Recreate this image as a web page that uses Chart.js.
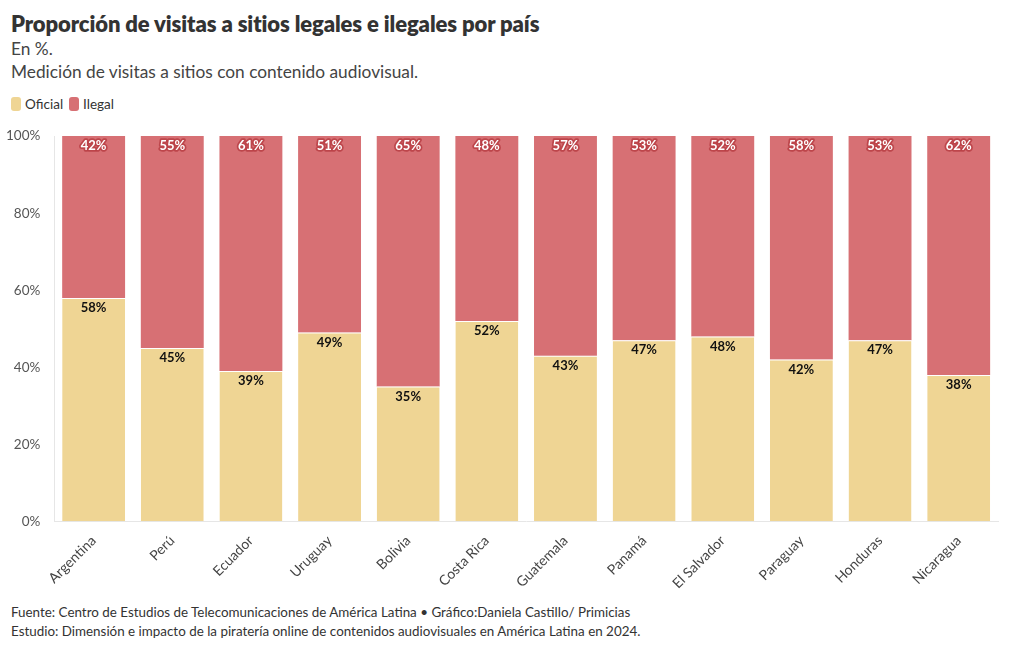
<!DOCTYPE html>
<html>
<head>
<meta charset="utf-8">
<script src="https://cdn.jsdelivr.net/npm/chart.js"></script>
<style>
  body { margin: 0; background: #fff; font-family: Lato, "Noto Sans", sans-serif; color: #333; }
  #wrap { position: relative; width: 1020px; height: 650px; }
  h1 { position: absolute; left: 11px; top: 10px; margin: 0; font-size: 22px; font-weight: 800; color: #333; letter-spacing: -0.1px; }
  .sub { position: absolute; left: 11px; top: 37px; font-size: 17.3px; line-height: 23px; color: #444; }
  .legend { position: absolute; left: 11px; top: 96px; font-size: 13.5px; color: #333; display: flex; align-items: center; }
  .legend span.sw { display: inline-block; width: 10px; height: 14px; border-radius: 3px; margin-right: 4px; }
  .legend span.it { margin-right: 6px; display: flex; align-items: center; }
  .foot { position: absolute; left: 11px; top: 603px; font-size: 13.4px; line-height: 19px; color: #333; }
  #box { position: absolute; left: 0; top: 122px; width: 1020px; height: 473px; }
</style>
</head>
<body>
<div id="wrap">
  <h1>Proporción de visitas a sitios legales e ilegales por país</h1>
  <div class="sub">En %.<br>Medición de visitas a sitios con contenido audiovisual.</div>
  <div class="legend">
    <span class="it"><span class="sw" style="background:#efd594"></span>Oficial</span>
    <span class="it"><span class="sw" style="background:#d77074"></span>Ilegal</span>
  </div>
  <div id="box"><canvas id="chart"></canvas></div>
  <div class="foot">Fuente: Centro de Estudios de Telecomunicaciones de América Latina • Gráfico:Daniela Castillo/ Primicias<br>Estudio: Dimensión e impacto de la piratería online de contenidos audiovisuales en América Latina en 2024.</div>
</div>
<script>
const paises = ['Argentina', 'Perú', 'Ecuador', 'Uruguay', 'Bolivia', 'Costa Rica', 'Guatemala', 'Panamá', 'El Salvador', 'Paraguay', 'Honduras', 'Nicaragua'];
const oficial = [58, 45, 39, 49, 35, 52, 43, 47, 48, 42, 47, 38];
const ilegal = [42, 55, 61, 51, 65, 48, 57, 53, 52, 58, 53, 62];
const yTicks = [0, 20, 40, 60, 80, 100];

// etiquetas de valor arriba de cada segmento
const valueLabels = {
  id: 'valueLabels',
  afterDatasetsDraw(chart) {
    const ctx = chart.ctx;
    ctx.save();
    ctx.font = 'bold 13px Lato, "Noto Sans", sans-serif';
    ctx.textAlign = 'center';
    ctx.textBaseline = 'middle';
    chart.data.datasets.forEach((ds, i) => {
      chart.getDatasetMeta(i).data.forEach((bar, j) => {
        const txt = ds.data[j] + '%';
        const y = bar.y + 10;
        if (i === 1) {
          ctx.lineWidth = 3.5;
          ctx.lineJoin = 'round';
          ctx.strokeStyle = 'rgba(185, 62, 68, 0.85)';
          ctx.strokeText(txt, bar.x, y);
          ctx.fillStyle = '#fff';
        } else {
          ctx.fillStyle = '#111';
        }
        ctx.fillText(txt, bar.x, y);
      });
    });
    ctx.restore();
  }
};

new Chart(document.getElementById('chart'), {
  type: 'bar',
  data: {
    labels: paises,
    datasets: [
      { label: 'Oficial', data: oficial, backgroundColor: '#efd594', borderColor: '#fff', borderWidth: { top: 1 }, categoryPercentage: 0.8, barPercentage: 1 },
      { label: 'Ilegal', data: ilegal, backgroundColor: '#d77074', borderColor: '#fff', borderWidth: 0, categoryPercentage: 0.8, barPercentage: 1 }
    ]
  },
  options: {
    responsive: true,
    maintainAspectRatio: false,
    animation: false,
    layout: { padding: { left: 0, right: 22, top: 8, bottom: 0 } },
    plugins: {
      legend: { display: false },
      tooltip: { enabled: false }
    },
    scales: {
      x: {
        stacked: true,
        grid: { display: false },
        border: { color: '#e6e6e6' },
        ticks: { maxRotation: 45, minRotation: 45, color: '#444', font: { size: 14, family: 'Lato, "Noto Sans", sans-serif' } }
      },
      y: {
        stacked: true,
        min: 0, max: 100,
        afterBuildTicks: (axis) => { axis.ticks = yTicks.map(v => ({ value: v })); },
        grid: { display: false },
        border: { color: '#e6e6e6' },
        ticks: { callback: v => v + '%', color: '#555', padding: 6, font: { size: 13.5, family: 'Lato, "Noto Sans", sans-serif' } }
      }
    }
  },
  plugins: [valueLabels]
});
</script>
</body>
</html>
